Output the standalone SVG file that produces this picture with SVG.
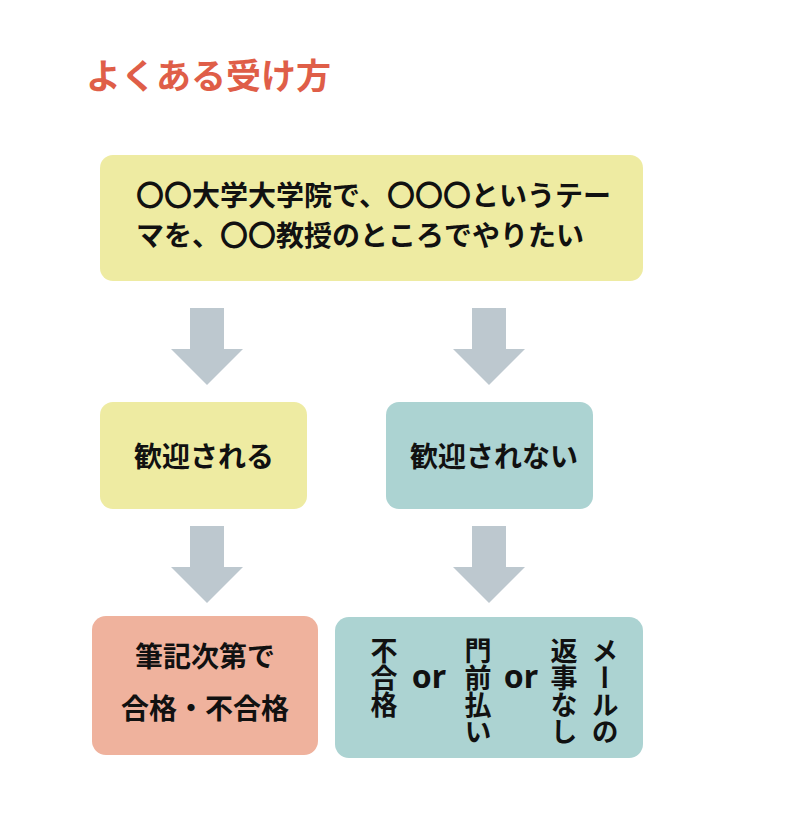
<svg xmlns="http://www.w3.org/2000/svg" width="810" height="835" viewBox="0 0 810 835">
<style>
.t{font-family:"Noto Sans CJK JP","Noto Sans",sans-serif;font-weight:700;fill:#111;font-size:28px}
.v{font-family:"Noto Sans CJK JP",sans-serif;font-weight:700;fill:#111;font-size:27px;writing-mode:vertical-rl}
.or{font-family:"Noto Sans","Noto Sans CJK JP",sans-serif;font-weight:700;fill:#111;font-size:32px}
.y{fill:#eeeba2}.g{fill:#acd3d2}.s{fill:#efb29d}
.a{fill:#bdc8cf}
</style>
<rect width="810" height="835" fill="#fff"/>
<text id="title" x="86" y="89" font-family="'Noto Sans CJK JP',sans-serif" font-weight="700" font-size="35" fill="#df5e48">よくある受け方</text>
<g id="connectors">
<polygon class="a" points="190,308 224,308 224,349 243,349 207,385 171,349 190,349"/>
<polygon class="a" points="472,308 506,308 506,349 525,349 489,385 453,349 472,349"/>
<polygon class="a" points="190,526 224,526 224,567 243,567 207,603 171,567 190,567"/>
<polygon class="a" points="472,526 506,526 506,567 525,567 489,603 453,567 472,567"/>
</g>
<g id="node-top">
<rect class="y" x="100" y="155" width="543" height="126" rx="13"/>
<text class="t" x="136" y="206">〇〇大学大学院で、〇〇〇というテー</text>
<text class="t" x="136" y="246">マを、〇〇教授のところでやりたい</text>
</g>
<g id="node-welcome">
<rect class="y" x="100" y="402" width="207" height="107" rx="13"/>
<text class="t" x="204" y="467" text-anchor="middle">歓迎される</text>
</g>
<g id="node-notwelcome">
<rect class="g" x="386" y="402" width="207" height="107" rx="13"/>
<text class="t" x="494" y="467" text-anchor="middle">歓迎されない</text>
</g>
<g id="node-exam">
<rect class="s" x="92" y="616" width="226" height="139" rx="14"/>
<text class="t" x="205" y="667" text-anchor="middle">筆記次第で</text>
<text class="t" x="205" y="719" text-anchor="middle">合格・不合格</text>
</g>
<g id="node-reject">
<rect class="g" x="335" y="617" width="308" height="141" rx="14"/>
<text class="v" x="384" y="637">不合格</text>
<text class="or" x="429" y="688" text-anchor="middle">or</text>
<text class="v" x="478" y="637">門前払い</text>
<text class="or" x="521" y="688" text-anchor="middle">or</text>
<text class="v" x="564" y="637">返事なし</text>
<text class="v" x="605" y="637">メールの</text>
</g>
</svg>
